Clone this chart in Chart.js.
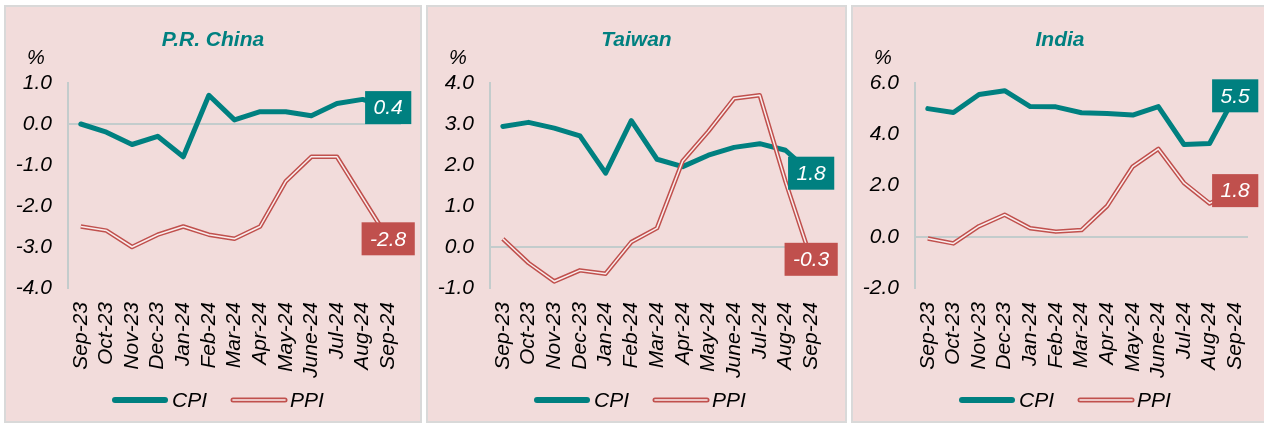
<!DOCTYPE html>
<html><head><meta charset="utf-8">
<script src="https://cdn.jsdelivr.net/npm/chart.js@4.4.1/dist/chart.umd.min.js"></script>
<style>
html,body{margin:0;padding:0;background:#fff;width:1264px;height:423px;overflow:hidden;position:relative}
.panel{position:absolute;top:5px;height:418px;box-sizing:border-box;border:2px solid #D9D9D9;background:#F2DCDB}
.panel canvas{position:absolute;left:0;top:0}
</style></head><body>
<div class="panel" style="left:4px;width:418px"><canvas id="c1" width="414" height="414"></canvas></div>
<div class="panel" style="left:426px;width:421px"><canvas id="c2" width="417" height="414"></canvas></div>
<div class="panel" style="left:851px;width:418px"><canvas id="c3" width="414" height="414"></canvas></div>
<script>
const categories = ['Sep-23','Oct-23','Nov-23','Dec-23','Jan-24','Feb-24','Mar-24','Apr-24','May-24','June-24','Jul-24','Aug-24','Sep-24'];
const chinaCPI = [0.0, -0.2, -0.5, -0.3, -0.8, 0.7, 0.1, 0.3, 0.3, 0.2, 0.5, 0.6, 0.4];
const chinaPPI = [-2.5, -2.6, -3.0, -2.7, -2.5, -2.7, -2.8, -2.5, -1.4, -0.8, -0.8, -1.8, -2.8];
const taiwanCPI = [2.94, 3.04, 2.90, 2.71, 1.80, 3.08, 2.14, 1.96, 2.24, 2.43, 2.52, 2.36, 1.8];
const taiwanPPI = [0.2, -0.39, -0.84, -0.57, -0.65, 0.12, 0.46, 2.10, 2.82, 3.62, 3.70, 1.6, -0.3];
const indiaCPI = [5.0, 4.85, 5.55, 5.70, 5.08, 5.07, 4.84, 4.81, 4.75, 5.08, 3.60, 3.64, 5.5];
const indiaPPI = [-0.07, -0.26, 0.41, 0.86, 0.33, 0.2, 0.26, 1.2, 2.74, 3.43, 2.1, 1.3, 1.8];
const chinaAxis = {min: -4, max: 1, step: 1};
const taiwanAxis = {min: -1, max: 4, step: 1};
const indiaAxis = {min: -2, max: 6, step: 2};
const seriesNames = ['CPI', 'PPI'];

const FONT = '"Liberation Sans", Arial, sans-serif';
const TEAL = '#008080';
const RED = '#C0504D';
const INNER = '#F9EDED';
const AXIS = '#C3CCCC';

const decor = {
  id: 'decor',
  afterDatasetsDraw(chart) {
    const ctx = chart.ctx;
    chart.data.datasets.forEach((ds, i) => {
      if (!ds.boxColor) return;
      const meta = chart.getDatasetMeta(i);
      const pt = meta.data[meta.data.length - 1];
      const txt = ds.data[ds.data.length - 1].toFixed(1);
      ctx.save();
      ctx.font = 'italic 21px ' + FONT;
      const w = ctx.measureText(txt).width + 17;
      const h = 33;
      ctx.fillStyle = ds.boxColor;
      ctx.fillRect(pt.x - w / 2, pt.y - h / 2, w, h);
      ctx.fillStyle = '#fff';
      ctx.textAlign = 'center';
      ctx.textBaseline = 'middle';
      ctx.fillText(txt, pt.x, pt.y + 1);
      ctx.restore();
    });
  },
  afterDraw(chart, args, opts) {
    const ctx = chart.ctx;
    const a = chart.chartArea;
    ctx.save();
    ctx.font = 'bold italic 21px ' + FONT;
    ctx.fillStyle = TEAL;
    ctx.textAlign = 'center';
    ctx.textBaseline = 'middle';
    ctx.fillText(opts.title, chart.width / 2, a.top - 43);
    ctx.font = 'italic 20px ' + FONT;
    ctx.fillStyle = '#000';
    ctx.fillText('%', a.left - 32, a.top - 25);
    const ly = a.bottom + 112;
    ctx.lineCap = 'round';
    ctx.strokeStyle = TEAL;
    ctx.lineWidth = 6;
    ctx.beginPath(); ctx.moveTo(a.left + 47, ly); ctx.lineTo(a.left + 97, ly); ctx.stroke();
    ctx.strokeStyle = RED;
    ctx.lineWidth = 5;
    ctx.beginPath(); ctx.moveTo(a.left + 165, ly); ctx.lineTo(a.left + 217, ly); ctx.stroke();
    ctx.strokeStyle = INNER;
    ctx.lineWidth = 1.6;
    ctx.beginPath(); ctx.moveTo(a.left + 165, ly); ctx.lineTo(a.left + 217, ly); ctx.stroke();
    ctx.font = 'italic 21px ' + FONT;
    ctx.fillStyle = '#000';
    ctx.textAlign = 'left';
    ctx.fillText(seriesNames[0], a.left + 104, ly + 1);
    ctx.fillText(seriesNames[1], a.left + 222, ly + 1);
    ctx.restore();
  }
};

function makeChart(id, title, cpi, ppi, axis, padRight) {
  new Chart(document.getElementById(id), {
    type: 'line',
    data: {
      labels: categories,
      datasets: [
        {label: seriesNames[0], data: cpi, borderColor: TEAL, borderWidth: 5, pointRadius: 0, order: 3, boxColor: TEAL, borderJoinStyle: 'round', borderCapStyle: 'round'},
        {label: seriesNames[1], data: ppi, borderColor: RED, borderWidth: 4.5, pointRadius: 0, order: 2, boxColor: RED, borderJoinStyle: 'round'},
        {label: seriesNames[1] + ' inner', data: ppi, borderColor: INNER, borderWidth: 1.5, pointRadius: 0, order: 1, borderJoinStyle: 'round'}
      ]
    },
    options: {
      responsive: false,
      animation: false,
      events: [],
      layout: {padding: {top: 76, left: 0, right: padRight, bottom: 43}},
      plugins: {legend: {display: false}, tooltip: {enabled: false}, title: {display: false}, decor: {title: title}},
      scales: {
        x: {
          offset: true,
          grid: {display: false, drawTicks: false},
          border: {display: false},
          ticks: {autoSkip: false, maxRotation: 90, minRotation: 90, padding: 14, color: '#000', font: {family: FONT, size: 21, style: 'italic'}},
          afterFit(s) { s.height = 90; s.paddingRight = 0; s.paddingLeft = 0; }
        },
        y: {
          min: axis.min, max: axis.max,
          ticks: {stepSize: axis.step, padding: 16, color: '#000', font: {family: FONT, size: 21, style: 'italic'}, callback: v => v.toFixed(1)},
          grid: {drawTicks: false, lineWidth: 2, color: c => (c.tick && c.tick.value === 0) ? AXIS : 'rgba(0,0,0,0)'},
          border: {display: true, color: AXIS, width: 2},
          afterFit(s) { s.width = 62; }
        }
      }
    },
    plugins: [decor]
  });
}

makeChart('c1', 'P.R. China', chinaCPI, chinaPPI, chinaAxis, 19);
makeChart('c2', 'Taiwan', taiwanCPI, taiwanPPI, taiwanAxis, 21);
makeChart('c3', 'India', indiaCPI, indiaPPI, indiaAxis, 19);
</script>
</body></html>
